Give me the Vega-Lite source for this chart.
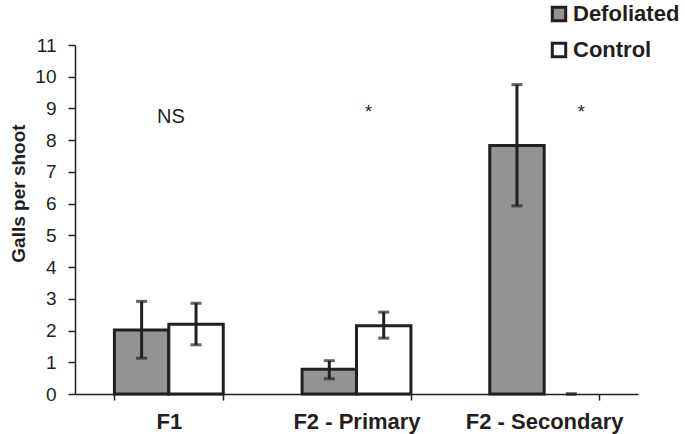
{
  "$schema": "https://vega.github.io/schema/vega-lite/v6.json",
  "autosize": {"type": "none"},
  "padding": {"left": 75, "top": 45, "right": 47, "bottom": 40},
  "width": 563,
  "height": 349,
  "background": "#ffffff",
  "config": {
    "view": {"stroke": null},
    "font": "Liberation Sans",
    "axis": {"domainColor": "#231f20", "tickColor": "#231f20", "labelColor": "#231f20", "titleColor": "#231f20", "grid": false, "domainWidth": 1.5, "tickWidth": 1.5},
    "axisY": {"labelOverlap": false, "labelFontSize": 19, "tickSize": 7, "labelPadding": 12, "titleFontSize": 19, "titleFontWeight": "bold"}
  },
  "data": {"values": [
    {"cat": "F1", "trt": "Defoliated", "mean": 2.02, "lo": 1.13, "hi": 2.92},
    {"cat": "F1", "trt": "Control", "mean": 2.2, "lo": 1.55, "hi": 2.86},
    {"cat": "F2 - Primary", "trt": "Defoliated", "mean": 0.78, "lo": 0.48, "hi": 1.05},
    {"cat": "F2 - Primary", "trt": "Control", "mean": 2.15, "lo": 1.76, "hi": 2.58},
    {"cat": "F2 - Secondary", "trt": "Defoliated", "mean": 7.83, "lo": 5.93, "hi": 9.75},
    {"cat": "F2 - Secondary", "trt": "Control", "mean": 0, "lo": 0, "hi": 0}
  ]},
  "encoding": {
    "x": {"field": "cat", "type": "nominal", "sort": ["F1", "F2 - Primary", "F2 - Secondary"],
      "scale": {"paddingInner": 0.42, "paddingOuter": 0.21},
      "axis": {"title": null, "labelAngle": 0, "tickBand": "extent", "tickSize": 6, "labelFontSize": 22, "labelFontWeight": "bold", "labelPadding": 11}}
  },
  "layer": [
    {
      "transform": [{"filter": "datum.mean > 0"}],
      "mark": {"type": "bar", "stroke": "#231f20", "strokeWidth": 3},
      "encoding": {
        "xOffset": {"field": "trt", "type": "nominal", "sort": ["Defoliated", "Control"], "scale": {"paddingInner": 0, "paddingOuter": 0}},
        "y": {"field": "mean", "type": "quantitative", "scale": {"domain": [0, 11], "nice": false},
          "axis": {"values": [0,1,2,3,4,5,6,7,8,9,10,11], "title": "Galls per shoot",
            "titleX": -57, "titleY": 148, "titleAlign": "center", "titleBaseline": "middle", "titleAngle": 270}},
        "fill": {"field": "trt", "type": "nominal", "scale": {"domain": ["Defoliated", "Control"], "range": ["#939393", "#ffffff"]},
          "legend": {"title": null, "orient": "none", "legendX": 473, "legendY": -42, "symbolType": "square", "symbolSize": 180,
            "symbolStrokeColor": "#231f20", "symbolStrokeWidth": 3, "labelFontSize": 22, "labelFontWeight": "bold", "labelColor": "#231f20",
            "rowPadding": 10, "labelOffset": 3}}
      }
    },
    {
      "mark": {"type": "rule", "color": "#231f20", "strokeWidth": 3},
      "encoding": {
        "xOffset": {"field": "trt", "type": "nominal", "sort": ["Defoliated", "Control"]},
        "y": {"field": "lo", "type": "quantitative", "axis": {"values": [0,1,2,3,4,5,6,7,8,9,10,11], "title": "Galls per shoot"}}, "y2": {"field": "hi"}}
    },
    {
      "mark": {"type": "tick", "color": "#231f20", "thickness": 3, "size": 11, "orient": "horizontal"},
      "encoding": {
        "xOffset": {"field": "trt", "type": "nominal", "sort": ["Defoliated", "Control"]},
        "y": {"field": "lo", "type": "quantitative", "axis": {"values": [0,1,2,3,4,5,6,7,8,9,10,11], "title": "Galls per shoot"}}}
    },
    {
      "mark": {"type": "tick", "color": "#231f20", "thickness": 3, "size": 11, "orient": "horizontal"},
      "encoding": {
        "xOffset": {"field": "trt", "type": "nominal", "sort": ["Defoliated", "Control"]},
        "y": {"field": "hi", "type": "quantitative", "axis": {"values": [0,1,2,3,4,5,6,7,8,9,10,11], "title": "Galls per shoot"}}}
    },
    {
      "data": {"values": [{"cat": "F1", "note": "NS", "pos": 8.74}]},
      "mark": {"type": "text", "fontSize": 20, "color": "#231f20", "baseline": "middle", "dx": 2},
      "encoding": {"y": {"field": "pos", "type": "quantitative", "axis": {"values": [0,1,2,3,4,5,6,7,8,9,10,11], "title": "Galls per shoot"}}, "text": {"field": "note"}}
    },
    {
      "data": {"values": [{"cat": "F2 - Primary", "note": "*", "pos": 8.85}]},
      "mark": {"type": "text", "fontSize": 18, "color": "#231f20", "baseline": "middle", "dx": 12},
      "encoding": {"y": {"field": "pos", "type": "quantitative", "axis": {"values": [0,1,2,3,4,5,6,7,8,9,10,11], "title": "Galls per shoot"}}, "text": {"field": "note"}}
    },
    {
      "data": {"values": [{"cat": "F2 - Secondary", "note": "*", "pos": 8.85}]},
      "mark": {"type": "text", "fontSize": 18, "color": "#231f20", "baseline": "middle", "dx": 37},
      "encoding": {"y": {"field": "pos", "type": "quantitative", "axis": {"values": [0,1,2,3,4,5,6,7,8,9,10,11], "title": "Galls per shoot"}}, "text": {"field": "note"}}
    }
  ]
}
